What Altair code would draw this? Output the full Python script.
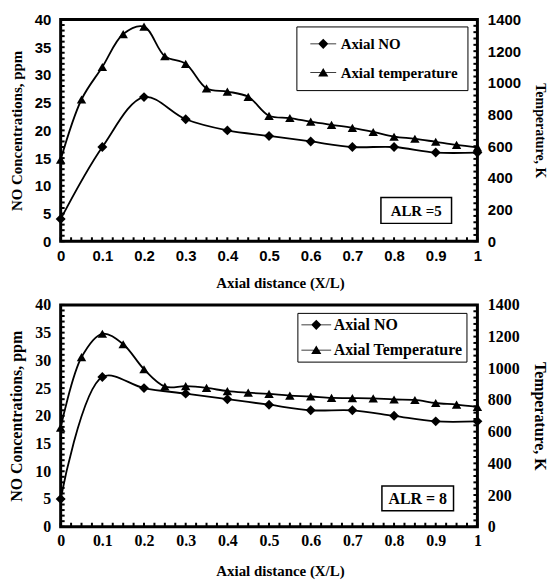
import altair as alt
import pandas as pd

# ---------------- data ----------------
X_NO = [0, 0.1, 0.2, 0.3, 0.4, 0.5, 0.6, 0.7, 0.8, 0.9, 1.0]
NO_ALR5 = [4, 17, 26, 22, 20, 19, 18, 17, 17, 16, 16]
NO_ALR8 = [5, 27, 25, 24, 23, 22, 21, 21, 20, 19, 19]

X_T = [0, 0.05, 0.1, 0.15, 0.2, 0.25, 0.3, 0.35, 0.4, 0.45, 0.5,
       0.55, 0.6, 0.65, 0.7, 0.75, 0.8, 0.85, 0.9, 0.95, 1.0]
T_ALR5 = [515, 895, 1100, 1308, 1355, 1168, 1120, 965, 945, 912, 792,
          778, 755, 735, 716, 690, 660, 647, 628, 609, 593]
T_ALR8 = [625, 1070, 1218, 1152, 994, 885, 887, 876, 856, 846, 838,
          828, 822, 813, 812, 810, 803, 800, 781, 771, 756]

LEGEND_5 = ["Axial NO", "Axial temperature"]
LEGEND_8 = ["Axial NO", "Axial Temperature"]
ALR_5 = ["ALR =5"]
ALR_8 = ["ALR = 8"]

X_TICKS = [0, 0.1, 0.2, 0.3, 0.4, 0.5, 0.6, 0.7, 0.8, 0.9, 1]
NO_TICKS = [0, 5, 10, 15, 20, 25, 30, 35, 40]
T_TICKS = [0, 200, 400, 600, 800, 1000, 1200, 1400]

W, H = 419, 223
SERIF = "Liberation Serif"


def sym_paths(half):
    d = 0.6
    t = 0.05
    bar = f"M-{half},-{t}H{half}V{t}H-{half}Z"
    diamond = bar + f"M0,-{d}L{d},0L0,{d}L-{d},0Z"
    tri = bar + "M0,-0.55L0.6,0.45L-0.6,0.45Z"
    return [diamond, tri]


def panel(no_vals, t_vals, legend_labels, alr_label, s):
    df_no = pd.DataFrame({"x": X_NO, "no": no_vals})
    df_t = pd.DataFrame({"x": X_T, "t": t_vals})

    xaxis = alt.Axis(values=X_TICKS, format="~g", title="Axial distance (X/L)",
                     labelFont=s["tick_font"], labelFontSize=s["tick_size"],
                     labelFontWeight="bold", labelColor="black", labelPadding=s["xlab_pad"],
                     labelFlush=False, labelOverlap=False,
                     titleFont=SERIF, titleFontSize=s["xtitle_size"], titleFontWeight="bold",
                     titleColor="black", titlePadding=s["xtitle_pad"], titleX=W / 2 + 11,
                     grid=False, ticks=False, domain=False)
    xenc = alt.X("x:Q", scale=alt.Scale(domain=[0, 1], nice=False), axis=xaxis)

    no_axis = alt.Axis(values=NO_TICKS, title="NO Concentrations, ppm",
                       labelFont=s["tick_font"], labelFontSize=s["tick_size"],
                       labelFontWeight="bold", labelColor="black", labelPadding=10,
                       titleFont=SERIF, titleFontSize=s["ytitle_size"], titleFontWeight="bold",
                       titleColor="black", titlePadding=s["ytitle_pad"],
                       grid=False, ticks=False, domain=False)
    t_axis = alt.Axis(values=T_TICKS, format="d", title="Temperature, K", orient="right",
                      labelFont=s["tick_font"], labelFontSize=s["tick_size"],
                      labelFontWeight="bold", labelColor="black", labelPadding=10,
                      titleFont=SERIF, titleFontSize=s["ttitle_size"], titleFontWeight="bold",
                      titleColor="black", titlePadding=s["ttitle_pad"],
                      grid=False, ticks=False, domain=False)

    no_layer = alt.Chart(df_no).mark_line(
        color="black", strokeWidth=1.8, interpolate="catmull-rom",
        point=alt.OverlayMarkDef(shape="diamond", size=100, filled=True, color="black"),
    ).encode(x=xenc, y=alt.Y("no:Q", scale=alt.Scale(domain=[0, 40], nice=False), axis=no_axis))

    t_layer = alt.Chart(df_t).mark_line(
        color="black", strokeWidth=1.8, interpolate="catmull-rom",
        point=alt.OverlayMarkDef(shape="triangle-up", size=90, filled=True, color="black"),
    ).encode(x=xenc, y=alt.Y("t:Q", scale=alt.Scale(domain=[0, 1400], nice=False), axis=t_axis))

    # inward minor ticks
    left_ticks = alt.Chart(pd.DataFrame({"v": list(range(0, 41))})).mark_rule(
        color="black", strokeWidth=2).encode(
        y=alt.Y("v:Q", scale=alt.Scale(domain=[0, 40], nice=False), axis=None),
        x=alt.value(0), x2=alt.value(4))
    right_ticks = alt.Chart(pd.DataFrame({"w": list(range(0, 1401, 40))})).mark_rule(
        color="black", strokeWidth=2).encode(
        y=alt.Y("w:Q", scale=alt.Scale(domain=[0, 1400], nice=False), axis=None),
        x=alt.value(W - 4), x2=alt.value(W))
    bottom_ticks = alt.Chart(pd.DataFrame({"x": [round(i * 0.025, 3) for i in range(41)]})).mark_rule(
        color="black", strokeWidth=2).encode(
        x=xenc, y=alt.value(H - 4), y2=alt.value(H))

    # plot frame
    frame = alt.Chart(pd.DataFrame({"f": [0]})).mark_rect(
        fill="white", fillOpacity=0, stroke="black", strokeWidth=3).encode(
        x=alt.value(0), x2=alt.value(W), y=alt.value(0), y2=alt.value(H))

    # legend (built-in, shape legend only)
    leg = alt.Chart(pd.DataFrame({"series": legend_labels})).transform_filter(
        "false").mark_point(color="black", filled=True).encode(
        x=xenc,
        shape=alt.Shape("series:N",
                        scale=alt.Scale(domain=legend_labels, range=sym_paths(s["sym_half"])),
                        legend=alt.Legend(
                            title=None, orient="none", legendX=s["leg_x"], legendY=s["leg_y"],
                            strokeColor="black", fillColor="white", padding=s["leg_pad"],
                            rowPadding=s["leg_rowpad"], labelOffset=s["lab_off"],
                            symbolOffset=s["sym_off"],
                            labelFont=SERIF, labelFontWeight="bold", labelFontSize=s["leg_size"],
                            labelColor="black", labelLimit=300,
                            symbolSize=289, symbolFillColor="black",
                            symbolStrokeColor="black", symbolStrokeWidth=0,
                            symbolOpacity=1)))

    bx = s["alr_box"]
    alr_df = pd.DataFrame({"label": alr_label})
    alr_rect = alt.Chart(alr_df).mark_rect(fill="white", stroke="black", strokeWidth=1.5).encode(
        x=alt.value(bx[0]), x2=alt.value(bx[1]), y=alt.value(bx[2]), y2=alt.value(bx[3]))
    alr_text = alt.Chart(alr_df).mark_text(
        font=SERIF, fontWeight="bold", fontSize=s["alr_size"], color="black").encode(
        x=alt.value((bx[0] + bx[1]) / 2), y=alt.value((bx[2] + bx[3]) / 2 + 1), text="label:N")

    return alt.layer(no_layer, t_layer, leg, alr_rect, alr_text,
                     left_ticks, right_ticks, bottom_ticks, frame
                     ).resolve_scale(y="independent").properties(width=W, height=H)


top_style = dict(tick_font="Liberation Sans", tick_size=15, xlab_pad=7, xtitle_size=15, xtitle_pad=12,
                 ytitle_size=15, ytitle_pad=10, ttitle_size=14, ttitle_pad=12,
                 leg_x=237, leg_y=7, leg_pad=9, leg_rowpad=12, leg_size=15,
                 sym_half=1.53, sym_off=9.5, lab_off=9,
                 alr_box=(322, 393, 179, 205), alr_size=15)
bot_style = dict(tick_font=SERIF, tick_size=16, xlab_pad=6, xtitle_size=15, xtitle_pad=15,
                 ytitle_size=16, ytitle_pad=10, ttitle_size=16, ttitle_pad=12,
                 leg_x=238, leg_y=8, leg_pad=3.5, leg_rowpad=8.5, leg_size=16,
                 sym_half=1.76, sym_off=7, lab_off=9,
                 alr_box=(323, 395, 182, 207), alr_size=16)

top = panel(NO_ALR5, T_ALR5, LEGEND_5, ALR_5, top_style)
bot = panel(NO_ALR8, T_ALR8, LEGEND_8, ALR_8, bot_style)

chart = alt.vconcat(top, bot, spacing=64, bounds="flush").resolve_scale(
    shape="independent").resolve_legend(shape="independent").properties(
    padding={"left": 8, "top": 10, "right": 3, "bottom": 2}
).configure_view(stroke=None).configure(background="white")

chart.save("out.html", embed_options={"renderer": "svg", "actions": False})
